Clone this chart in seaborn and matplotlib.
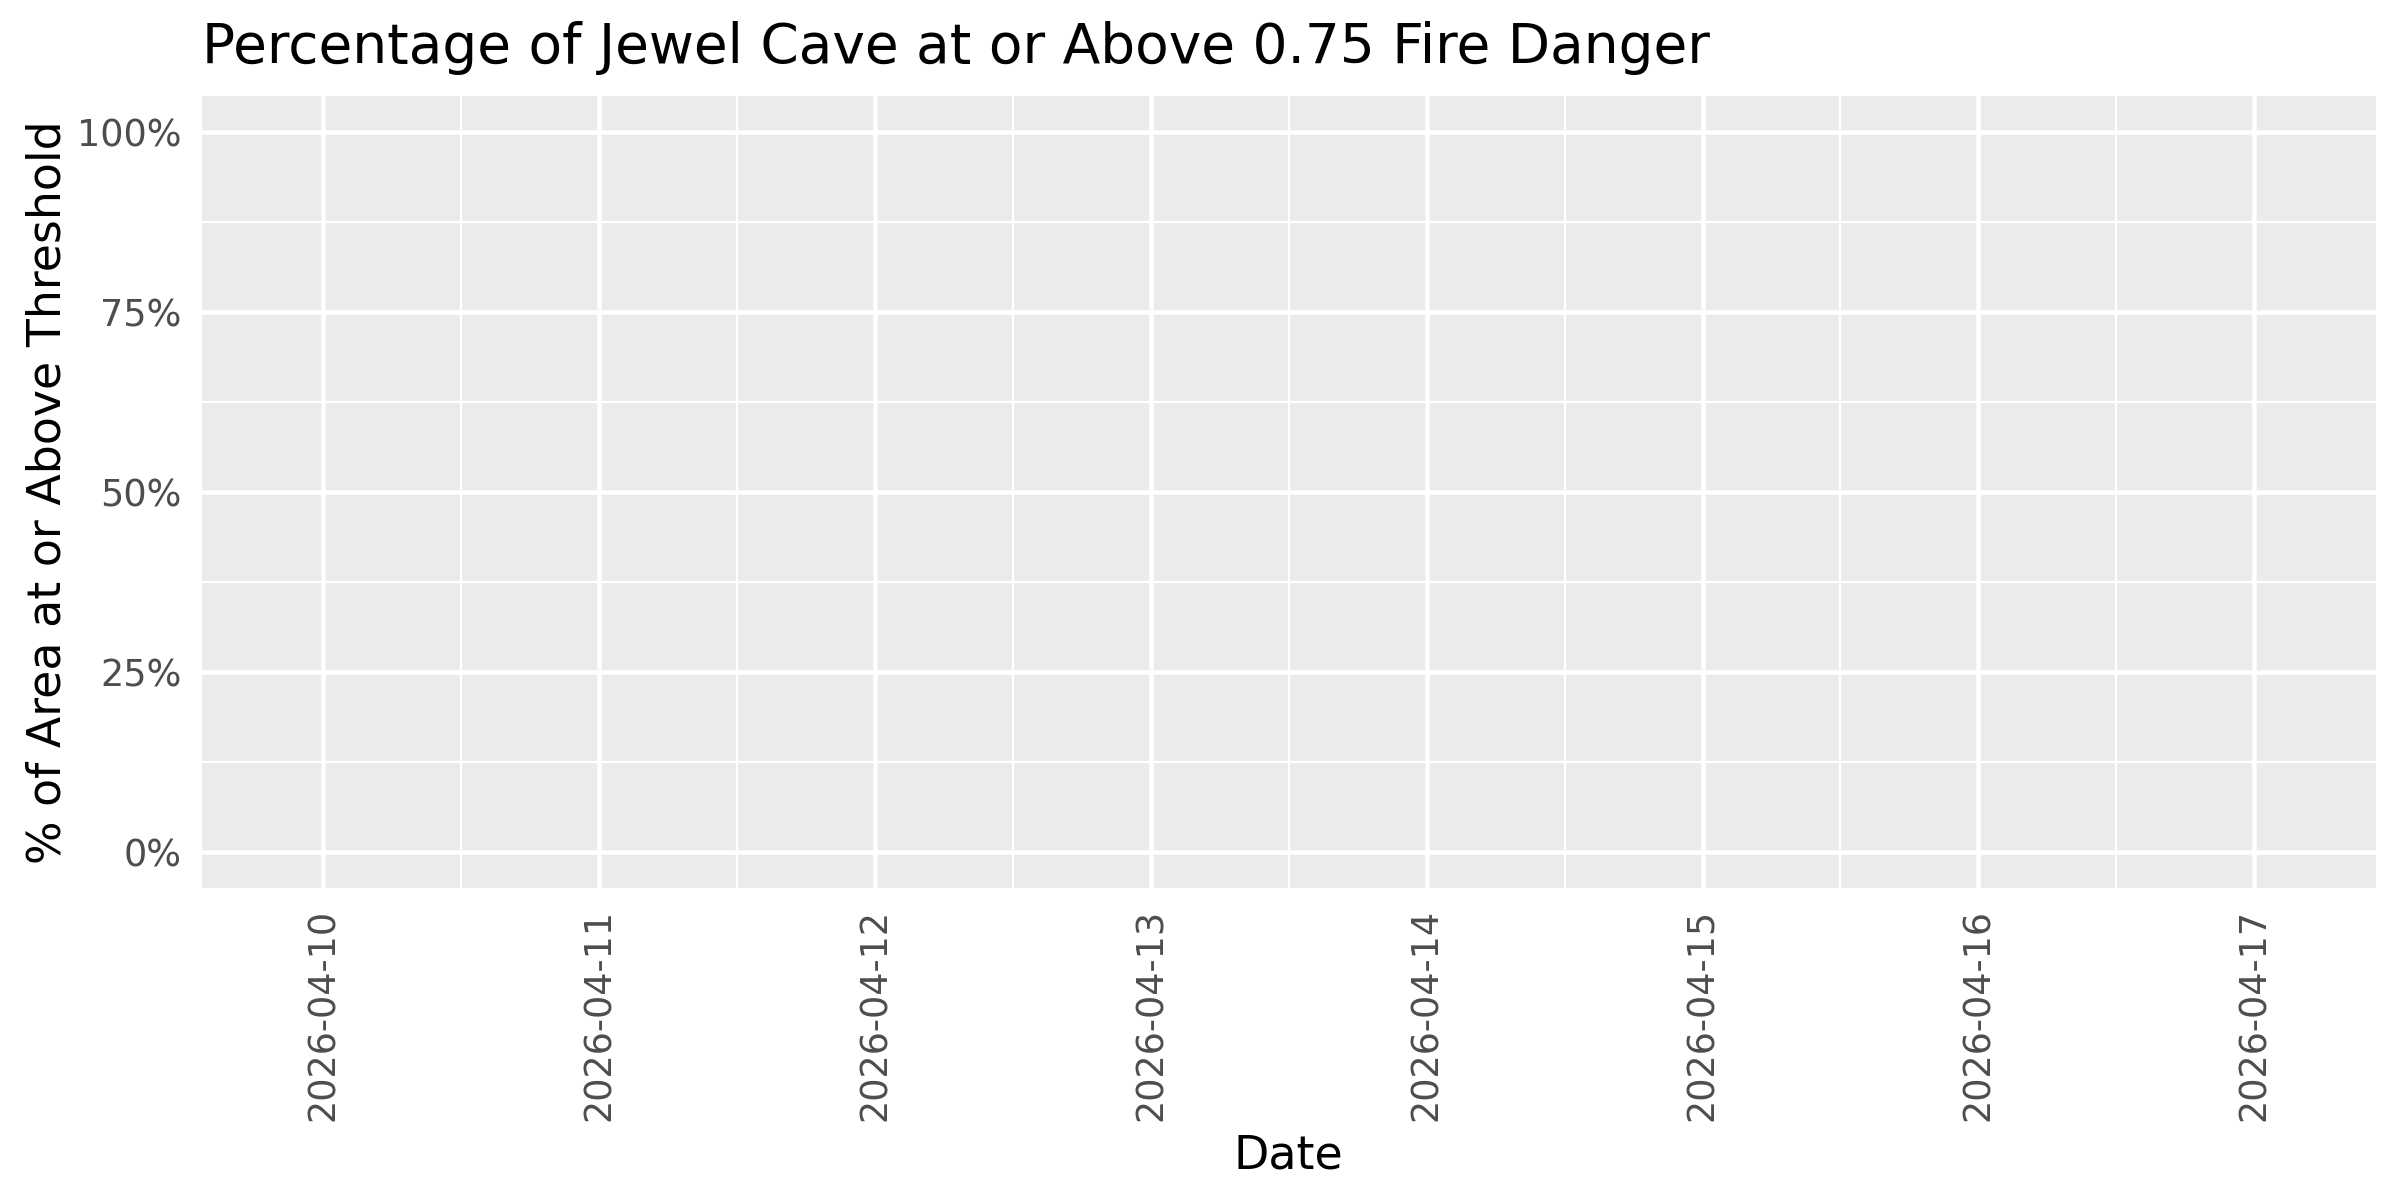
import seaborn as sns
import pandas as pd
import matplotlib.pyplot as plt
from matplotlib.ticker import FixedLocator, PercentFormatter

# data: share of area at/above threshold per day (all zero)
dates = ['2026-04-10', '2026-04-11', '2026-04-12', '2026-04-13',
         '2026-04-14', '2026-04-15', '2026-04-16', '2026-04-17']
pct_above = [0, 0, 0, 0, 0, 0, 0, 0]

df = pd.DataFrame({'Date': dates, 'pct': pct_above})

sns.set_style('darkgrid', {'axes.facecolor': '#EBEBEB', 'grid.color': 'white'})
plt.rcParams['font.family'] = ['DejaVu Sans']
plt.rcParams['text.color'] = 'black'
plt.rcParams['axes.labelcolor'] = 'black'

fig = plt.figure(figsize=(8, 4), dpi=300)
ax = fig.add_axes([0.0842, 0.26, 0.9056, 0.66])

sns.barplot(x='Date', y='pct', data=df, ax=ax, color='#595959', linewidth=0)

n = len(dates)
ax.set_xlim(-0.44, n - 1 + 0.44)
ax.set_ylim(-0.05, 1.05)
ax.yaxis.set_major_locator(FixedLocator([0, 0.25, 0.5, 0.75, 1.0]))
ax.yaxis.set_minor_locator(FixedLocator([0.125, 0.375, 0.625, 0.875]))
ax.xaxis.set_minor_locator(FixedLocator([i + 0.5 for i in range(n - 1)]))
ax.yaxis.set_major_formatter(PercentFormatter(1.0, decimals=0))

ax.grid(which='major', color='white', linewidth=1.1)
ax.grid(which='minor', color='white', linewidth=0.55)
ax.set_axisbelow(True)
for s in ax.spines.values():
    s.set_visible(False)

ax.tick_params(axis='both', which='major', length=2.75, width=1.2,
               color='#333333', labelcolor='#4D4D4D', labelsize=8.8, pad=2.2)
ax.tick_params(axis='both', which='minor', length=0)
plt.xticks(rotation=90)

ax.set_xlabel('Date', fontsize=11, color='black', labelpad=3)
ax.set_ylabel('% of Area at or Above Threshold', fontsize=11, color='black', labelpad=1.5)
ax.set_title('Percentage of Jewel Cave at or Above 0.75 Fire Danger',
             fontsize=13.2, loc='left', pad=8, color='black')

fig.savefig('out.png', dpi=300)
plt.close()
